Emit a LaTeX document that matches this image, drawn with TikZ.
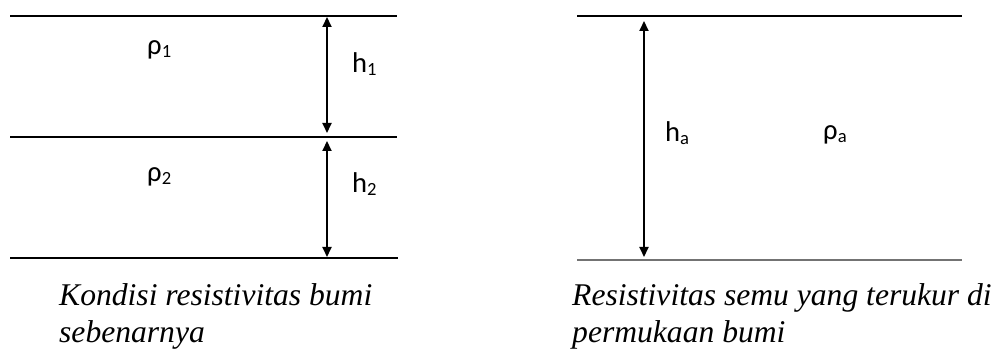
\documentclass[tikz,border=0pt]{standalone}
\usepackage{fontspec}
\setmainfont{Liberation Serif}
\newfontfamily\lblfont{Carlito}
\usetikzlibrary{arrows.meta}
\newcommand{\sbs}[1]{\raisebox{-3pt}{\fontsize{18.6}{18.6}\selectfont #1}}
\begin{document}
\begin{tikzpicture}[x=1pt,y=-1pt,
  layer/.style={line width=2pt},
  thinlayer/.style={line width=1.4pt,draw=black!55},
  dim/.style={line width=2pt,{Triangle[length=10pt,width=9pt]}-{Triangle[length=10pt,width=9pt]}},
  lbl/.style={font=\lblfont\fontsize{28.6}{28.6}\selectfont,inner sep=0pt,anchor=base west},
  captext/.style={font=\fontsize{31.6}{37}\selectfont\itshape,inner sep=0pt,anchor=base west,align=left}]
\useasboundingbox (0,0) rectangle (1002,352);
% left diagram
\coordinate (L1a) at (10,16); \coordinate (L1b) at (397,16);
\coordinate (L2a) at (10,137); \coordinate (L2b) at (397,137);
\coordinate (L3a) at (10,258); \coordinate (L3b) at (398,258);
\draw[layer] (L1a) -- (L1b);
\draw[layer] (L2a) -- (L2b);
\draw[layer] (L3a) -- (L3b);
\coordinate (A1t) at (327,17); \coordinate (A1b) at (327,133);
\coordinate (A2t) at (327,141); \coordinate (A2b) at (327,257);
\draw[dim] (A1t) -- (A1b);
\draw[dim] (A2t) -- (A2b);
\node[lbl] (rho1) at (147,55) {ρ\sbs{1}};
\node[lbl] (h1) at (352,73) {h\sbs{1}};
\node[lbl] (rho2) at (147,182) {ρ\sbs{2}};
\node[lbl] (h2) at (352,193) {h\sbs{2}};
% right diagram
\coordinate (R1a) at (577,16); \coordinate (R1b) at (962,16);
\coordinate (R2a) at (577,260); \coordinate (R2b) at (962,260);
\draw[layer] (R1a) -- (R1b);
\draw[thinlayer] (R2a) -- (R2b);
\coordinate (B1t) at (644,21); \coordinate (B1b) at (644,257);
\draw[dim] (B1t) -- (B1b);
\node[lbl] (ha) at (665,142) {h\sbs{a}};
\node[lbl] (rhoa) at (823,140) {ρ\sbs{a}};
% captions
\node[captext] (capL) at (59,306) {Kondisi resistivitas bumi};
\node[captext] (capL2) at (59,343) {sebenarnya};
\node[captext] (capR) at (572,306) {Resistivitas semu yang terukur di};
\node[captext] (capR2) at (572,343) {permukaan bumi};
\end{tikzpicture}
\end{document}
